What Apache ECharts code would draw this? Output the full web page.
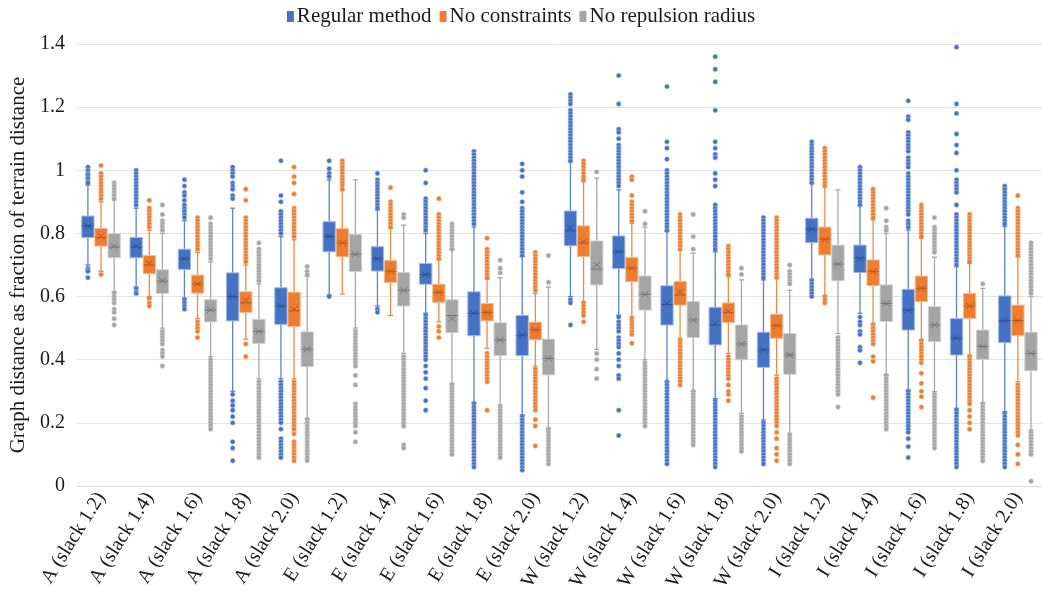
<!DOCTYPE html>
<html><head><meta charset="utf-8">
<script src="https://cdn.jsdelivr.net/npm/echarts/dist/echarts.min.js"></script>
<style>html,body{margin:0;padding:0;background:#fff}#c{width:1042px;height:601px}</style>
</head><body><div id="c"></div>
<script>
const categories = ['A (slack 1.2)','A (slack 1.4)','A (slack 1.6)','A (slack 1.8)','A (slack 2.0)',
  'E (slack 1.2)','E (slack 1.4)','E (slack 1.6)','E (slack 1.8)','E (slack 2.0)',
  'W (slack 1.2)','W (slack 1.4)','W (slack 1.6)','W (slack 1.8)','W (slack 2.0)',
  'I (slack 1.2)','I (slack 1.4)','I (slack 1.6)','I (slack 1.8)','I (slack 2.0)'];
const seriesNames = ['Regular method','No constraints','No repulsion radius'];
const yTicks = {min: 0, max: 1.4, interval: 0.2};

// [lower whisker, Q1, median, Q3, upper whisker]
const regularBox = [
[0.700,0.787,0.824,0.855,0.953],[0.630,0.723,0.757,0.787,0.880],[0.595,0.686,0.720,0.750,0.840],
[0.300,0.523,0.600,0.675,0.880],[0.340,0.512,0.570,0.628,0.790],[0.605,0.742,0.790,0.837,0.970],
[0.570,0.681,0.720,0.758,0.874],[0.547,0.639,0.670,0.705,0.800],[0.265,0.476,0.547,0.615,0.820],
[0.225,0.413,0.478,0.540,0.727],[0.600,0.761,0.808,0.871,1.027],[0.541,0.689,0.742,0.792,0.938],
[0.330,0.510,0.575,0.634,0.806],[0.277,0.447,0.510,0.566,0.742],[0.209,0.376,0.431,0.487,0.653],
[0.655,0.771,0.813,0.848,0.959],[0.547,0.676,0.722,0.763,0.888],[0.304,0.494,0.557,0.623,0.811],
[0.246,0.415,0.468,0.530,0.695],[0.235,0.454,0.524,0.602,0.822]];
const regularMean = [0.823,0.760,0.720,0.600,0.570,0.790,0.720,0.670,0.547,0.478,0.818,0.742,0.579,0.515,0.431,0.813,0.720,0.557,0.468,0.524];

const constraintsBox = [
[0.680,0.760,0.787,0.816,0.900],[0.600,0.673,0.700,0.730,0.810],[0.530,0.611,0.640,0.668,0.740],
[0.465,0.550,0.580,0.615,0.700],[0.340,0.505,0.555,0.614,0.780],[0.608,0.726,0.770,0.815,0.937],
[0.540,0.645,0.680,0.714,0.816],[0.520,0.582,0.613,0.639,0.716],[0.436,0.523,0.550,0.578,0.655],
[0.380,0.463,0.495,0.519,0.610],[0.584,0.727,0.770,0.824,0.964],[0.536,0.647,0.690,0.724,0.832],
[0.468,0.573,0.605,0.648,0.748],[0.420,0.518,0.550,0.580,0.663],[0.351,0.468,0.508,0.544,0.658],
[0.602,0.732,0.782,0.820,0.948],[0.515,0.635,0.679,0.716,0.843],[0.463,0.584,0.626,0.665,0.785],
[0.414,0.531,0.570,0.610,0.705],[0.330,0.476,0.524,0.573,0.726]];
const constraintsMean = [0.791,0.705,0.640,0.588,0.560,0.770,0.680,0.613,0.550,0.495,0.774,0.690,0.615,0.553,0.508,0.780,0.679,0.626,0.570,0.524];

const repulsionBox = [
[0.616,0.723,0.757,0.800,0.906],[0.500,0.610,0.649,0.685,0.800],[0.410,0.520,0.557,0.590,0.710],
[0.340,0.452,0.490,0.528,0.640],[0.214,0.378,0.433,0.488,0.664],[0.500,0.679,0.734,0.797,0.970],
[0.420,0.570,0.620,0.676,0.826],[0.325,0.486,0.540,0.590,0.748],[0.257,0.413,0.462,0.517,0.660],
[0.183,0.352,0.404,0.465,0.630],[0.433,0.637,0.687,0.776,0.975],[0.400,0.557,0.607,0.665,0.820],
[0.300,0.470,0.526,0.584,0.737],[0.230,0.400,0.450,0.510,0.653],[0.167,0.354,0.415,0.483,0.620],
[0.483,0.650,0.703,0.763,0.938],[0.352,0.521,0.578,0.637,0.800],[0.299,0.457,0.510,0.568,0.725],
[0.262,0.401,0.442,0.494,0.626],[0.178,0.365,0.420,0.487,0.600]];
const repulsionMean = [0.760,0.650,0.558,0.490,0.433,0.734,0.620,0.530,0.462,0.404,0.700,0.607,0.526,0.450,0.415,0.703,0.578,0.510,0.442,0.420];

const regularOutliers = [
[1.01,1.0,0.99,0.985,0.975,0.965,0.96,0.69,0.685,0.68,0.66],
[1.0,0.99,0.98,0.97,0.96,0.95,0.94,0.93,0.92,0.91,0.9,0.89,0.625,0.615,0.61],
[0.97,0.95,0.93,0.92,0.905,0.89,0.88,0.87,0.86,0.85,0.59,0.58,0.57,0.56],
[1.01,1.0,0.99,0.98,0.96,0.95,0.94,0.92,0.91,0.29,0.27,0.255,0.24,0.22,0.2,0.14,0.12,0.08],
[1.03,0.92,0.9,0.87,0.86,0.85,0.84,0.83,0.82,0.81,0.8,0.33,0.32,0.31,0.3,0.29,0.28,0.27,0.26,0.25,0.24,0.23,0.22,0.21,0.2,0.18,0.15,0.14,0.13,0.12,0.11,0.1,0.09],
[1.03,1.005,0.99,0.98,0.6],
[0.99,0.97,0.96,0.95,0.94,0.93,0.92,0.91,0.9,0.89,0.88,0.56,0.55],
[1.0,0.96,0.91,0.9,0.89,0.88,0.87,0.86,0.85,0.84,0.83,0.82,0.81,0.54,0.53,0.52,0.51,0.5,0.49,0.48,0.47,0.46,0.45,0.44,0.43,0.42,0.41,0.4,0.38,0.36,0.34,0.31,0.27,0.24],
[1.06,1.05,1.04,1.03,1.02,1.01,1.0,0.99,0.98,0.97,0.96,0.95,0.94,0.93,0.92,0.91,0.9,0.89,0.88,0.87,0.86,0.85,0.84,0.83,0.26,0.25,0.24,0.23,0.22,0.21,0.2,0.19,0.18,0.17,0.16,0.15,0.14,0.13,0.12,0.11,0.1,0.09,0.08,0.07,0.06],
[1.02,1.0,0.98,0.93,0.9,0.88,0.87,0.86,0.85,0.84,0.83,0.82,0.81,0.8,0.79,0.78,0.77,0.76,0.75,0.74,0.73,0.22,0.21,0.2,0.19,0.18,0.17,0.16,0.15,0.14,0.13,0.12,0.11,0.1,0.09,0.08,0.07,0.06,0.05],
[1.24,1.23,1.22,1.21,1.19,1.18,1.17,1.16,1.15,1.14,1.13,1.12,1.11,1.1,1.09,1.08,1.07,1.06,1.05,1.04,1.03,0.59,0.58,0.51],
[1.3,1.21,1.13,1.12,1.1,1.08,1.07,1.06,1.05,1.04,1.03,1.02,1.01,1.0,0.99,0.98,0.97,0.96,0.95,0.535,0.52,0.51,0.5,0.49,0.47,0.46,0.45,0.44,0.42,0.4,0.38,0.35,0.34,0.24,0.16],
[1.265,1.09,1.07,1.035,1.0,0.99,0.98,0.97,0.96,0.95,0.94,0.93,0.92,0.91,0.9,0.89,0.88,0.87,0.86,0.85,0.84,0.83,0.82,0.81,0.33,0.32,0.31,0.3,0.29,0.28,0.27,0.26,0.25,0.24,0.23,0.22,0.21,0.2,0.19,0.18,0.17,0.16,0.15,0.14,0.13,0.12,0.11,0.1,0.09,0.08,0.07],
[1.36,1.32,1.28,1.19,1.09,1.07,1.05,1.04,0.99,0.97,0.95,0.89,0.88,0.87,0.86,0.85,0.84,0.83,0.82,0.81,0.8,0.79,0.78,0.77,0.76,0.75,0.27,0.26,0.25,0.24,0.23,0.22,0.21,0.2,0.19,0.18,0.17,0.16,0.15,0.14,0.13,0.12,0.11,0.1,0.09,0.08,0.07,0.06],
[0.85,0.84,0.83,0.82,0.81,0.8,0.79,0.78,0.77,0.76,0.75,0.74,0.73,0.72,0.71,0.7,0.69,0.68,0.67,0.66,0.2,0.19,0.18,0.17,0.16,0.15,0.14,0.13,0.12,0.11,0.1,0.09,0.08,0.07],
[1.09,1.08,1.07,1.06,1.05,1.04,1.03,1.02,1.01,1.0,0.99,0.98,0.97,0.96,0.65,0.64,0.63,0.62,0.61,0.6],
[1.01,1.0,0.99,0.98,0.97,0.96,0.95,0.94,0.93,0.92,0.91,0.9,0.89,0.535,0.52,0.51,0.49,0.48,0.44,0.43,0.39],
[1.22,1.17,1.16,1.12,1.11,1.1,1.09,1.08,1.07,1.06,1.04,1.03,1.02,1.01,0.99,0.98,0.97,0.96,0.95,0.94,0.93,0.92,0.91,0.9,0.89,0.88,0.87,0.86,0.84,0.83,0.82,0.3,0.29,0.28,0.27,0.26,0.25,0.24,0.23,0.22,0.21,0.2,0.19,0.18,0.17,0.15,0.125,0.09],
[1.39,1.21,1.18,1.115,1.08,1.055,1.0,0.97,0.96,0.95,0.94,0.93,0.89,0.86,0.85,0.84,0.83,0.82,0.81,0.8,0.79,0.78,0.77,0.76,0.75,0.74,0.73,0.72,0.71,0.7,0.24,0.23,0.22,0.21,0.2,0.19,0.18,0.17,0.16,0.15,0.14,0.13,0.12,0.11,0.1,0.09,0.08,0.07,0.06],
[0.95,0.94,0.93,0.92,0.91,0.9,0.89,0.88,0.87,0.86,0.85,0.84,0.83,0.23,0.22,0.21,0.2,0.19,0.18,0.17,0.16,0.15,0.14,0.13,0.12,0.11,0.1,0.09,0.08,0.07,0.06]];

const constraintsOutliers = [
[1.015,0.99,0.98,0.97,0.96,0.95,0.94,0.93,0.92,0.91,0.67],
[0.905,0.88,0.87,0.86,0.85,0.84,0.83,0.82,0.594,0.58,0.57],
[0.85,0.84,0.83,0.82,0.81,0.8,0.79,0.78,0.77,0.76,0.75,0.52,0.51,0.5,0.49,0.47],
[0.94,0.905,0.85,0.84,0.83,0.82,0.81,0.8,0.79,0.78,0.77,0.76,0.75,0.74,0.73,0.72,0.71,0.45,0.41],
[1.01,0.98,0.96,0.925,0.88,0.87,0.86,0.85,0.84,0.83,0.82,0.81,0.8,0.79,0.33,0.32,0.31,0.3,0.29,0.28,0.27,0.26,0.25,0.24,0.23,0.22,0.21,0.2,0.19,0.18,0.165,0.14,0.13,0.12,0.11,0.1,0.09,0.08],
[1.03,1.02,1.01,1.0,0.99,0.98,0.97,0.96,0.95,0.94],
[0.945,0.9,0.89,0.88,0.87,0.86,0.85,0.84,0.83,0.82],
[0.91,0.86,0.85,0.84,0.83,0.82,0.81,0.8,0.79,0.78,0.77,0.76,0.75,0.74,0.73,0.72,0.505,0.49,0.47],
[0.785,0.75,0.74,0.73,0.72,0.71,0.7,0.69,0.68,0.67,0.66,0.42,0.41,0.4,0.39,0.38,0.37,0.36,0.35,0.34,0.33,0.24],
[0.74,0.73,0.72,0.71,0.7,0.69,0.68,0.67,0.66,0.65,0.64,0.63,0.62,0.37,0.36,0.35,0.34,0.33,0.32,0.31,0.3,0.29,0.28,0.27,0.26,0.25,0.24,0.21,0.19,0.127],
[1.03,1.02,1.01,1.0,0.99,0.98,0.97,0.58,0.57,0.56,0.55,0.54,0.52],
[0.98,0.97,0.92,0.9,0.89,0.88,0.87,0.86,0.85,0.84,0.53,0.52,0.51,0.5,0.49,0.48,0.452],
[0.86,0.85,0.84,0.83,0.82,0.81,0.8,0.79,0.78,0.77,0.76,0.75,0.46,0.45,0.44,0.43,0.42,0.41,0.4,0.39,0.38,0.37,0.36,0.35,0.34,0.33,0.32],
[0.76,0.75,0.74,0.73,0.72,0.71,0.7,0.69,0.68,0.67,0.41,0.4,0.39,0.38,0.37,0.36,0.35,0.34,0.32,0.3,0.29,0.27],
[0.85,0.84,0.83,0.82,0.81,0.8,0.79,0.78,0.77,0.76,0.75,0.74,0.73,0.72,0.71,0.7,0.69,0.68,0.67,0.66,0.34,0.33,0.32,0.31,0.3,0.29,0.28,0.27,0.26,0.25,0.24,0.23,0.22,0.21,0.2,0.19,0.17,0.15,0.12,0.1,0.08],
[1.07,1.06,1.05,1.04,1.03,1.02,1.01,1.0,0.99,0.98,0.97,0.96,0.95,0.6,0.59,0.58],
[0.94,0.93,0.92,0.91,0.9,0.89,0.88,0.87,0.86,0.85,0.51,0.5,0.49,0.48,0.47,0.46,0.45,0.41,0.395,0.28],
[0.89,0.88,0.87,0.86,0.85,0.84,0.83,0.82,0.81,0.8,0.79,0.46,0.45,0.44,0.43,0.42,0.41,0.4,0.39,0.357,0.325,0.3,0.283,0.25],
[0.86,0.85,0.84,0.83,0.82,0.81,0.8,0.79,0.78,0.77,0.76,0.75,0.74,0.73,0.72,0.71,0.41,0.4,0.39,0.38,0.37,0.36,0.35,0.34,0.33,0.32,0.31,0.3,0.29,0.28,0.27,0.26,0.24,0.22,0.2,0.18],
[0.92,0.88,0.87,0.86,0.85,0.84,0.83,0.82,0.81,0.8,0.79,0.78,0.77,0.76,0.75,0.74,0.73,0.32,0.31,0.3,0.29,0.28,0.27,0.26,0.25,0.24,0.23,0.22,0.21,0.2,0.19,0.18,0.17,0.16,0.13,0.1,0.07]];

const repulsionOutliers = [
[0.96,0.95,0.94,0.93,0.92,0.91,0.61,0.6,0.59,0.58,0.56,0.55,0.53,0.51],
[0.89,0.86,0.84,0.83,0.82,0.81,0.49,0.48,0.47,0.46,0.45,0.43,0.42,0.41,0.38],
[0.85,0.83,0.82,0.81,0.8,0.79,0.78,0.77,0.76,0.75,0.74,0.73,0.72,0.4,0.39,0.38,0.37,0.36,0.35,0.34,0.33,0.32,0.31,0.3,0.29,0.28,0.27,0.26,0.25,0.24,0.23,0.22,0.21,0.2,0.19,0.18],
[0.77,0.75,0.74,0.73,0.72,0.71,0.7,0.69,0.68,0.67,0.66,0.65,0.33,0.32,0.31,0.3,0.29,0.28,0.27,0.26,0.25,0.24,0.23,0.22,0.21,0.2,0.19,0.18,0.17,0.16,0.15,0.14,0.13,0.12,0.11,0.1,0.09],
[0.695,0.68,0.67,0.21,0.2,0.19,0.18,0.17,0.16,0.15,0.14,0.13,0.12,0.11,0.1,0.09,0.08],
[0.49,0.48,0.47,0.46,0.45,0.44,0.43,0.42,0.41,0.4,0.39,0.38,0.35,0.32,0.26,0.25,0.24,0.23,0.22,0.21,0.2,0.19,0.17,0.14],
[0.86,0.85,0.41,0.4,0.39,0.38,0.37,0.36,0.35,0.34,0.33,0.32,0.31,0.3,0.29,0.28,0.27,0.26,0.25,0.24,0.23,0.22,0.21,0.2,0.19,0.13,0.12],
[0.83,0.82,0.81,0.8,0.79,0.78,0.77,0.76,0.75,0.32,0.31,0.3,0.29,0.28,0.27,0.26,0.25,0.24,0.23,0.22,0.21,0.2,0.19,0.18,0.17,0.16,0.15,0.14,0.13,0.12,0.11,0.1],
[0.715,0.69,0.675,0.25,0.24,0.23,0.22,0.21,0.2,0.19,0.18,0.17,0.16,0.15,0.14,0.13,0.12,0.11,0.1,0.09],
[0.73,0.645,0.18,0.17,0.16,0.15,0.14,0.13,0.12,0.11,0.1,0.09,0.08,0.07],
[0.995,0.42,0.4,0.37,0.34],
[0.87,0.83,0.39,0.38,0.37,0.36,0.35,0.34,0.33,0.32,0.31,0.3,0.29,0.28,0.27,0.26,0.25,0.24,0.23,0.22,0.21,0.2,0.19],
[0.86,0.79,0.75,0.3,0.29,0.28,0.27,0.26,0.25,0.24,0.23,0.22,0.21,0.2,0.19,0.18,0.17,0.16,0.15,0.14,0.13],
[0.69,0.67,0.22,0.21,0.2,0.19,0.18,0.17,0.16,0.15,0.14,0.13,0.12,0.11],
[0.7,0.68,0.67,0.66,0.65,0.64,0.16,0.15,0.14,0.13,0.12,0.11,0.1,0.09,0.08,0.07],
[0.47,0.46,0.45,0.44,0.43,0.42,0.41,0.4,0.39,0.38,0.37,0.36,0.35,0.34,0.33,0.32,0.31,0.3,0.29,0.25],
[0.88,0.84,0.82,0.81,0.35,0.34,0.33,0.32,0.31,0.3,0.29,0.28,0.27,0.26,0.25,0.24,0.23,0.22,0.21,0.2,0.19,0.18],
[0.85,0.82,0.81,0.8,0.79,0.78,0.77,0.76,0.75,0.74,0.29,0.28,0.27,0.26,0.25,0.24,0.23,0.22,0.21,0.2,0.19,0.18,0.17,0.16,0.15,0.14,0.13,0.12],
[0.64,0.26,0.25,0.24,0.23,0.22,0.21,0.2,0.19,0.18,0.17,0.16,0.15,0.14,0.13,0.12,0.11,0.1,0.09,0.08],
[0.77,0.76,0.75,0.74,0.73,0.72,0.71,0.7,0.69,0.68,0.67,0.66,0.65,0.64,0.63,0.62,0.61,0.17,0.16,0.15,0.14,0.13,0.12,0.11,0.1,0.015]];

const FONT = '"Liberation Serif", "DejaVu Serif", serif';
const palettes = [
  {main:'#4472C4', border:'#9fb6e2', dark:'#2f528f', whisker:'#5b84cc', dotStroke:'#a9bfe6'},
  {main:'#ED7D31', border:'#f6b98f', dark:'#b85a1c', whisker:'#ef8a45', dotStroke:'#f7c19c'},
  {main:'#A5A5A5', border:'#cfcfcf', dark:'#777777', whisker:'#a8a8a8', dotStroke:'#d0d0d0'}
];
const SLOT = 0.272, BOXW = 0.255;

function boxRenderer(slot, pal) {
  return function (params, api) {
    const cat = api.value(0);
    const bw = api.size([1, 0])[0];
    const cx = api.coord([cat, 0])[0] + slot * bw * SLOT;
    const w = bw * BOXW;
    const y = i => api.coord([cat, api.value(i)])[1];
    const yLow = y(1), yQ1 = y(2), yMed = y(3), yQ3 = y(4), yHigh = y(5), yMean = y(6);
    const cap = 2.5, m = 3.6;
    const ws = {stroke: pal.whisker, lineWidth: 1.3};
    return {type: 'group', children: [
      {type:'line', shape:{x1:cx, y1:yHigh, x2:cx, y2:yQ3}, style: ws},
      {type:'line', shape:{x1:cx, y1:yQ1, x2:cx, y2:yLow}, style: ws},
      {type:'line', shape:{x1:cx-cap, y1:yHigh, x2:cx+cap, y2:yHigh}, style: ws},
      {type:'line', shape:{x1:cx-cap, y1:yLow, x2:cx+cap, y2:yLow}, style: ws},
      {type:'rect', shape:{x:cx-w/2, y:yQ3, width:w, height:yQ1-yQ3}, style:{fill: pal.main, stroke: pal.border, lineWidth: 1}},
      {type:'line', shape:{x1:cx-w/2+0.5, y1:yMed, x2:cx+w/2-0.5, y2:yMed}, style:{stroke: pal.dark, lineWidth: 1}},
      {type:'line', shape:{x1:cx-m, y1:yMean-m*0.8, x2:cx+m, y2:yMean+m*0.8}, style:{stroke: pal.dark, lineWidth: 1}},
      {type:'line', shape:{x1:cx-m, y1:yMean+m*0.8, x2:cx+m, y2:yMean-m*0.8}, style:{stroke: pal.dark, lineWidth: 1}}
    ]};
  };
}
function dotRenderer(slot, pal) {
  return function (params, api) {
    const cat = api.value(0);
    const bw = api.size([1, 0])[0];
    const p = api.coord([cat, api.value(1)]);
    return {type:'circle', shape:{cx: p[0] + slot * bw * SLOT, cy: p[1], r: 2.4},
      style:{fill: pal.main, stroke: pal.dotStroke, lineWidth: 0.6}};
  };
}

const boxSets = [[regularBox, regularMean, regularOutliers],[constraintsBox, constraintsMean, constraintsOutliers],[repulsionBox, repulsionMean, repulsionOutliers]];
const series = [];
boxSets.forEach((set, k) => {
  const pal = palettes[k];
  const slot = k - 1;
  series.push({
    name: seriesNames[k], type: 'custom', renderItem: dotRenderer(slot, pal),
    itemStyle: {color: pal.main}, encode: {x: 0, y: 1}, z: 2,
    data: set[2].flatMap((arr, i) => arr.map(v => [i, v]))
  });
  series.push({
    name: seriesNames[k], type: 'custom', renderItem: boxRenderer(slot, pal),
    itemStyle: {color: pal.main}, encode: {x: 0, y: [1,2,3,4,5,6]}, z: 3,
    data: set[0].map((b, i) => [i].concat(b, [set[1][i]]))
  });
});

const chart = echarts.init(document.getElementById('c'), null, {renderer: 'canvas'});
chart.setOption({
  animation: false,
  backgroundColor: '#ffffff',
  textStyle: {fontFamily: FONT},
  legend: {
    data: seriesNames.map((n, k) => ({name: n, itemStyle: {color: palettes[k].main}})),
    top: 1, left: 'center', icon: 'rect', itemWidth: 7, itemHeight: 11, itemGap: 8,
    textStyle: {fontFamily: FONT, fontSize: 21, color: '#1a1a1a', padding: [0, 0, 0, -2]}
  },
  grid: {left: 64, top: 44, width: 982, height: 442, containLabel: false},
  xAxis: {
    type: 'category', data: categories,
    axisLine: {lineStyle: {color: '#d9d9d9', width: 1}},
    axisTick: {show: false},
    axisLabel: {interval: 0, rotate: 58, margin: 8, fontFamily: FONT, fontSize: 20, color: '#1a1a1a'},
    splitLine: {show: false}
  },
  yAxis: {
    type: 'value', min: yTicks.min, max: yTicks.max, interval: yTicks.interval,
    name: 'Graph distance as fraction of terrain distance', nameLocation: 'middle', nameGap: 47, nameRotate: 90,
    nameTextStyle: {fontFamily: FONT, fontSize: 21, color: '#1a1a1a'},
    axisLine: {show: false}, axisTick: {show: false},
    axisLabel: {fontFamily: FONT, fontSize: 20, color: '#1a1a1a', margin: 12},
    splitLine: {lineStyle: {color: '#e3e3e3', width: 1}}
  },
  series: series
});
</script>
</body></html>
